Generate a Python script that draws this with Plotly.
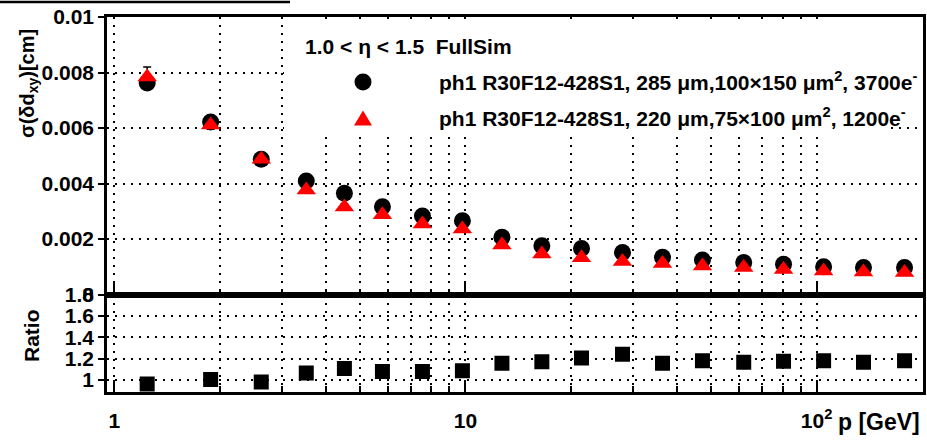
import plotly.graph_objects as go

# ---- data ----
p_gev = [1.24, 1.88, 2.62, 3.52, 4.52, 5.8, 7.54, 9.8, 12.7, 16.5, 21.4, 28.0,
         36.4, 47.3, 62.0, 80.5, 104.7, 136.0, 178.0]
sigma_285 = [0.00762, 0.00622, 0.00487, 0.00409, 0.00365, 0.00316, 0.00283, 0.00266,
             0.00206, 0.00176, 0.00166, 0.00151, 0.00134, 0.00124, 0.00115, 0.00109,
             0.00100, 0.00097, 0.00097]
sigma_285_err = [0.0002, 0.00015, 0.0001, 0.0001, 0.0001, 0.00008, 0.00008, 0.00008,
                 0.00006, 0.00005, 0.00005, 0.00004, 0.00004, 0.00004, 0.00003, 0.00003,
                 0.00003, 0.00003, 0.00003]
sigma_220 = [0.00784, 0.00611, 0.00487, 0.00377, 0.00315, 0.00287, 0.00254, 0.00236,
             0.00178, 0.00146, 0.00132, 0.00119, 0.00112, 0.00103, 0.00097, 0.00090,
             0.00085, 0.00081, 0.00079]
sigma_220_err = [0.00036, 0.00015, 0.0001, 0.0001, 0.0001, 0.00008, 0.00008, 0.00008,
                 0.00006, 0.00005, 0.00005, 0.00004, 0.00004, 0.00004, 0.00003, 0.00003,
                 0.00003, 0.00003, 0.00003]
ratio = [0.962, 1.005, 0.980, 1.066, 1.106, 1.078, 1.078, 1.086, 1.156, 1.170, 1.206,
         1.240, 1.156, 1.180, 1.165, 1.176, 1.180, 1.165, 1.180]

label_285 = "ph1 R30F12-428S1, 285 μm,100×150 μm<sup>2</sup>, 3700e<sup>-</sup>"
label_220 = "ph1 R30F12-428S1, 220 μm,75×100 μm<sup>2</sup>, 1200e<sup>-</sup>"
header = "1.0 &lt; η &lt; 1.5&nbsp;&nbsp;FullSim"

x_major = [1, 10, 100]
x_major_text = ["1", "10", "10<sup>2</sup>"]
x_minor = [2, 3, 4, 5, 6, 7, 8, 9, 20, 30, 40, 50, 60, 70, 80, 90, 200]
y_top_ticks = [0, 0.002, 0.004, 0.006, 0.008, 0.01]
y_top_text = ["0", "0.002", "0.004", "0.006", "0.008", "0.01"]
y_ratio_ticks = [1, 1.2, 1.4, 1.6, 1.8]
y_ratio_text = ["1", "1.2", "1.4", "1.6", "1.8"]

W, H = 927, 441
FONT = "Liberation Sans, Arial, Helvetica, sans-serif"

# frame geometry (pixels)
X_LEFT, X_RIGHT = 107, 923
Y_TOP, Y_MID, Y_BOT = 17, 294.5, 392
XRANGE_LOG = [-0.021, 2.303]
YRANGE_TOP = [0, 0.01]
YRANGE_RATIO = [0.887, 1.8]


def px(x):
    return x / W


def py(y):
    return 1 - y / H


def pix_to_xdata(x):
    f = (x - X_LEFT) / (X_RIGHT - X_LEFT)
    return 10 ** (XRANGE_LOG[0] + f * (XRANGE_LOG[1] - XRANGE_LOG[0]))


def pix_to_ydata(y):
    f = (Y_MID - y) / (Y_MID - Y_TOP)
    return YRANGE_TOP[0] + f * (YRANGE_TOP[1] - YRANGE_TOP[0])


fig = go.Figure()

# white legend box that hides the grid behind the legend
box_px = [(284, 21), (921.5, 21), (921.5, 126), (888, 126), (888, 131), (284, 131), (284, 21)]
fig.add_trace(go.Scatter(
    x=[pix_to_xdata(a) for a, b in box_px], y=[pix_to_ydata(b) for a, b in box_px],
    mode="lines", fill="toself", fillcolor="white", line=dict(width=0, color="white"),
    hoverinfo="skip", showlegend=False, xaxis="x", yaxis="y"))

fig.add_trace(go.Scatter(
    x=p_gev, y=sigma_285, mode="markers", name=label_285,
    marker=dict(symbol="circle", size=17, color="black"),
    error_y=dict(type="data", array=sigma_285_err, color="black", thickness=1.5, width=4),
    xaxis="x", yaxis="y", showlegend=False))
fig.add_trace(go.Scatter(
    x=p_gev, y=sigma_220, mode="markers", name=label_220,
    marker=dict(symbol="triangle-up", size=17, color="#ff0000"),
    error_y=dict(type="data", array=sigma_220_err, color="black", thickness=1.5, width=4),
    xaxis="x", yaxis="y", showlegend=False))
fig.add_trace(go.Scatter(
    x=p_gev, y=ratio, mode="markers", name="Ratio",
    marker=dict(symbol="square", size=15, color="black"),
    xaxis="x2", yaxis="y2", showlegend=False))

xdom = [px(X_LEFT), px(X_RIGHT)]
top_dom = [py(Y_MID), py(Y_TOP)]
bot_dom = [py(Y_BOT), py(Y_MID)]

grid_common = dict(showgrid=True, gridcolor="black", gridwidth=2, griddash="2px,6px")
line_common = dict(showline=True, linecolor="black", linewidth=2.5, mirror=True,
                   zeroline=False)
tickfont = dict(family=FONT, size=21, color="black", weight="bold")

xaxis_common = dict(
    type="log", range=XRANGE_LOG, domain=xdom,
    tickmode="array", tickvals=x_major, ticktext=x_major_text,
    ticks="inside", ticklen=12, tickwidth=2, tickcolor="black",
    minor=dict(tickmode="array", tickvals=x_minor, ticks="inside", ticklen=6,
               tickwidth=2, tickcolor="black", showgrid=True, gridcolor="black",
               gridwidth=2, griddash="2px,6px"),
    automargin=False, **grid_common, **line_common)

fig.update_layout(
    width=W, height=H,
    margin=dict(l=0, r=0, t=0, b=0, pad=0),
    paper_bgcolor="white", plot_bgcolor="white",
    template="none",
    showlegend=False,
    font=dict(family=FONT, color="black"),
    xaxis=dict(anchor="y", showticklabels=False, **xaxis_common),
    xaxis2=dict(anchor="y2", showticklabels=True, tickfont=tickfont,
                ticklabelstandoff=8, **xaxis_common),
    yaxis=dict(domain=top_dom, range=YRANGE_TOP, anchor="x",
               tickmode="array", tickvals=y_top_ticks, ticktext=y_top_text,
               ticks="outside", ticklen=6, tickwidth=2, tickcolor="black",
               tickfont=tickfont, automargin=False, **grid_common, **line_common),
    yaxis2=dict(domain=bot_dom, range=YRANGE_RATIO, anchor="x2",
                tickmode="array", tickvals=y_ratio_ticks, ticktext=y_ratio_text,
                ticks="outside", ticklen=6, tickwidth=2, tickcolor="black",
                tickfont=tickfont, automargin=False, **grid_common, **line_common),
)

shapes = [
    # canvas frame fragment at the top-left
    dict(type="line", xref="paper", yref="paper", layer="above",
         x0=0, x1=px(290), y0=py(2), y1=py(2), line=dict(color="black", width=2.5)),
    # legend markers
    dict(type="circle", xref="paper", yref="paper", layer="above",
         x0=px(363 - 8.5), x1=px(363 + 8.5), y0=py(82 + 8.5), y1=py(82 - 8.5),
         fillcolor="black", line=dict(width=0)),
    dict(type="path", xref="paper", yref="paper", layer="above",
         path=f"M {px(354)},{py(125.5)} L {px(372)},{py(125.5)} L {px(363)},{py(110.5)} Z",
         fillcolor="#ff0000", line=dict(width=0)),
]
fig.update_layout(shapes=shapes)

ann_font = dict(family=FONT, size=21, color="black", weight="bold")
annotations = [
    dict(text=header, x=px(303), y=py(46), xref="paper", yref="paper",
         xanchor="left", yanchor="middle", showarrow=False, font=ann_font),
    dict(text=label_285, x=px(437), y=py(81), xref="paper", yref="paper",
         xanchor="left", yanchor="middle", showarrow=False, font=ann_font),
    dict(text=label_220, x=px(437), y=py(117), xref="paper", yref="paper",
         xanchor="left", yanchor="middle", showarrow=False, font=ann_font),
    dict(text="σ(δd<sub>xy</sub>)[cm]", x=px(28), y=py(84), xref="paper", yref="paper",
         xanchor="center", yanchor="middle", textangle=-90, showarrow=False,
         font=dict(family=FONT, size=20, color="black", weight="bold")),
    dict(text="Ratio", x=px(31), y=py(336), xref="paper", yref="paper",
         xanchor="center", yanchor="middle", textangle=-90, showarrow=False,
         font=dict(family=FONT, size=21, color="black", weight="bold")),
    dict(text="p [GeV]", x=px(922), y=py(422), xref="paper", yref="paper",
         xanchor="right", yanchor="middle", showarrow=False,
         font=dict(family=FONT, size=23, color="black", weight="bold")),
]
fig.update_layout(annotations=annotations)

fig.write_html("out.html", config={"displayModeBar": False},
               post_script="document.body.style.margin='0px';")
